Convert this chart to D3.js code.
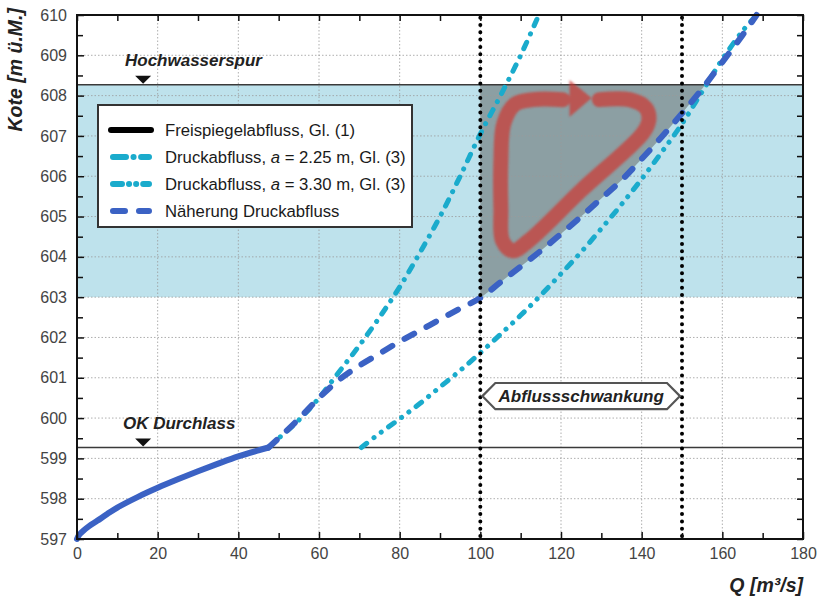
<!DOCTYPE html>
<html>
<head>
<meta charset="utf-8">
<script src="https://cdn.jsdelivr.net/npm/d3@7"></script>
<style>
  body { margin: 0; background: #fff; }
  svg { font-family: "Liberation Sans", Arial, sans-serif; }
</style>
</head>
<body>
<svg width="822" height="600"></svg>
<script>
// Data
var xTicks = [0, 20, 40, 60, 80, 100, 120, 140, 160, 180];
var xMinor = [10, 30, 50, 70, 90, 110, 130, 150, 170];
var yTicks = [597, 598, 599, 600, 601, 602, 603, 604, 605, 606, 607, 608, 609, 610];
var yMinor = [597.5, 598.5, 599.5, 600.5, 601.5, 602.5, 603.5, 604.5, 605.5, 606.5, 607.5, 608.5, 609.5];

var freiQ = [0, 0.5, 1.5, 3, 5, 7.5, 10, 15, 20, 25, 30, 35, 40, 45, 47.5];
var freiK = [597, 597.1, 597.2, 597.32, 597.45, 597.62, 597.78, 598.04, 598.27, 598.48, 598.68, 598.87, 599.05, 599.2, 599.27];

var druck225Q = [47.5, 50, 55, 60, 65, 70, 75, 80, 85, 90, 95, 100, 105, 110, 114.5];
var druck225K = [599.27, 599.5, 599.95, 600.5, 601.15, 601.8, 602.5, 603.25, 604.1, 605.0, 606.0, 607.05, 608.0, 609.0, 610];

var druck330Q = [70.5, 75, 80, 85, 90, 95, 100, 105, 110, 115, 120, 125, 130, 135, 140, 145, 150, 155, 160, 165, 168.5];
var druck330K = [599.27, 599.62, 599.98, 600.36, 600.77, 601.18, 601.62, 602.08, 602.55, 603.05, 603.58, 604.12, 604.7, 605.3, 605.93, 606.6, 607.3, 608.1, 608.9, 609.6, 610];

var naeherungQ = [47.5, 50, 55, 60, 65, 70, 75, 80, 85, 90, 95, 100, 105, 110, 115, 120, 125, 130, 135, 140, 145, 150, 155, 160, 165, 168.5];
var naeherungK = [599.27, 599.5, 599.98, 600.5, 600.95, 601.3, 601.6, 601.9, 602.17, 602.45, 602.72, 602.98, 603.37, 603.76, 604.15, 604.57, 605.0, 605.45, 605.9, 606.43, 606.98, 607.56, 608.17, 608.83, 609.5, 610];

var hochwasser = 608.27;
var okDurchlass = 599.27;
var bandBottom = 603;
var schwankung = [100, 150];

// loop arrow (annotation) in data coordinates
var loopQ = [129.5, 137, 141, 141.8, 140.3, 125, 112, 108, 105.5, 105.1, 105.1, 105.8, 108.5, 113, 120.5];
var loopK = [607.9, 607.9, 607.7, 607.4, 607.07, 605.65, 604.4, 604.15, 604.4, 605.2, 606.4, 607.3, 607.78, 607.9, 607.9];
var headQ = [122.1, 122.1, 127.6];
var headK = [608.39, 607.47, 607.94];

var legendItems = ["frei", "d225", "d330", "naeh"];

// Sizing
var svg = d3.select("svg");
var plotLeft = 77, plotRight = 803, plotTop = 15, plotBottom = 539;

var x = d3.scaleLinear().domain([0, 180]).range([plotLeft, plotRight]);
var y = d3.scaleLinear().domain([597, 610]).range([plotBottom, plotTop]);

var blue = "#3b62c4";
var cyan = "#1aabcc";

function zip(qs, ks) {
	return qs.map((q, i) => [q, ks[i]]);
}

var line = d3
	.line()
	.x((d) => x(d[0]))
	.y((d) => y(d[1]))
	.curve(d3.curveCatmullRom.alpha(0.5));

// Blue band
svg
	.append("rect")
	.attr("x", x(0))
	.attr("y", y(hochwasser))
	.attr("width", x(180) - x(0))
	.attr("height", y(bandBottom) - y(hochwasser))
	.attr("fill", "#bee2ec");

// Gray region between 100 and the approximation curve
var naeh = zip(naeherungQ, naeherungK);
var grayPts = [[schwankung[0], hochwasser]];
for (var i = 0; i < naeh.length; i++) {
	var p = naeh[i];
	if (p[0] < schwankung[0]) continue;
	if (p[1] <= hochwasser) {
		grayPts.push(p);
	} else {
		var prev = naeh[i - 1];
		var t = (hochwasser - prev[1]) / (p[1] - prev[1]);
		grayPts.push([prev[0] + t * (p[0] - prev[0]), hochwasser]);
		break;
	}
}
svg
	.append("path")
	.attr("d", d3.line().x((d) => x(d[0])).y((d) => y(d[1]))(grayPts) + "Z")
	.attr("fill", "#8c9fa3");

// Grid
var grid = svg.append("g").attr("stroke", "#9a9a9a").attr("stroke-width", 0.8).attr("stroke-dasharray", "1.5,2");
grid
	.selectAll("line.v")
	.data(xTicks.slice(1, -1))
	.join("line")
	.attr("class", "v")
	.attr("x1", (d) => x(d))
	.attr("x2", (d) => x(d))
	.attr("y1", y(597))
	.attr("y2", y(610));
grid
	.selectAll("line.h")
	.data(yTicks.slice(1, -1))
	.join("line")
	.attr("class", "h")
	.attr("x1", x(0))
	.attr("x2", x(180))
	.attr("y1", (d) => y(d))
	.attr("y2", (d) => y(d));

// Reference levels
svg
	.selectAll("line.level")
	.data([hochwasser, okDurchlass])
	.join("line")
	.attr("class", "level")
	.attr("x1", x(0))
	.attr("x2", x(180))
	.attr("y1", (d) => y(d))
	.attr("y2", (d) => y(d))
	.attr("stroke", "#3a3a3a")
	.attr("stroke-width", 1.6);

// Curves
var styles = {
	frei: { color: blue, width: 6, dash: null },
	d225: { color: cyan, width: 5, dash: "7,9,0.1,9" },
	d330: { color: cyan, width: 5, dash: "7,9,0.1,9,0.1,9" },
	naeh: { color: blue, width: 6, dash: "11,14" },
};

var curves = [
	["d330", zip(druck330Q, druck330K)],
	["d225", zip(druck225Q, druck225K)],
	["naeh", naeh],
	["frei", zip(freiQ, freiK)],
];

svg
	.append("g")
	.selectAll("path")
	.data(curves)
	.join("path")
	.attr("d", (d) => line(d[1]))
	.attr("fill", "none")
	.attr("stroke", (d) => styles[d[0]].color)
	.attr("stroke-width", (d) => styles[d[0]].width)
	.attr("stroke-dasharray", (d) => styles[d[0]].dash)
	.attr("stroke-linecap", "round");

// Red loop arrow
var defs = svg.append("defs");
defs
	.append("filter")
	.attr("id", "soft")
	.append("feGaussianBlur")
	.attr("stdDeviation", 0.9);

var loop = svg.append("g").attr("opacity", 0.72).attr("filter", "url(#soft)");
loop
	.append("path")
	.attr("d", line(zip(loopQ, loopK)))
	.attr("fill", "none")
	.attr("stroke", "#cc3b36")
	.attr("stroke-width", 15)
	.attr("stroke-linecap", "round")
	.attr("stroke-linejoin", "round");
loop
	.append("path")
	.attr("d", d3.line().x((d) => x(d[0])).y((d) => y(d[1]))(zip(headQ, headK)) + "Z")
	.attr("fill", "#cc3b36");

// Dotted verticals
svg
	.selectAll("line.schw")
	.data(schwankung)
	.join("line")
	.attr("class", "schw")
	.attr("x1", (d) => x(d))
	.attr("x2", (d) => x(d))
	.attr("y1", y(597) - 3)
	.attr("y2", y(610))
	.attr("stroke", "#000")
	.attr("stroke-width", 4)
	.attr("stroke-linecap", "round")
	.attr("stroke-dasharray", "0,7.3");

// Abflussschwankung label
var lblTop = y(600.87), lblBot = y(600.22), lblMid = (lblTop + lblBot) / 2;
var xa = x(schwankung[0]) + 2, xb = x(schwankung[1]) - 2;
svg
	.append("path")
	.attr(
		"d",
		`M${xa},${lblMid} L${xa + 13},${lblTop} L${xb - 13},${lblTop} L${xb},${lblMid} L${xb - 13},${lblBot} L${xa + 13},${lblBot} Z`
	)
	.attr("fill", "#fff")
	.attr("stroke", "#555")
	.attr("stroke-width", 2.2);
svg
	.append("text")
	.attr("x", (xa + xb) / 2)
	.attr("y", lblMid + 6)
	.attr("text-anchor", "middle")
	.style("font-weight", "bold")
	.style("font-style", "italic")
	.style("font-size", "17px")
	.attr("fill", "#222")
	.text("Abflussschwankung");

// Level labels with triangles
var markQ = 16.4;
[
	[hochwasser, "Hochwasserspur", 11.9],
	[okDurchlass, "OK Durchlass", 11.4],
].forEach(function (d) {
	svg
		.append("path")
		.attr("d", `M${x(markQ) - 8},${y(d[0]) - 9} L${x(markQ) + 8},${y(d[0]) - 9} L${x(markQ)},${y(d[0]) - 1} Z`)
		.attr("fill", "#111");
	svg
		.append("text")
		.attr("x", x(d[2]))
		.attr("y", y(d[0]) - 19)
		.style("font-weight", "bold")
		.style("font-style", "italic")
		.style("font-size", "17px")
		.attr("fill", "#222")
		.text(d[1]);
});

// Legend
var legend = svg.append("g");
legend
	.append("rect")
	.attr("x", 98)
	.attr("y", 105)
	.attr("width", 314)
	.attr("height", 122)
	.attr("fill", "#fff")
	.attr("stroke", "#333")
	.attr("stroke-width", 2);

var legendLabels = {
	frei: [["Freispiegelabfluss, Gl. (1)", false]],
	d225: [["Druckabfluss, ", false], ["a", true], [" = 2.25 m, Gl. (3)", false]],
	d330: [["Druckabfluss, ", false], ["a", true], [" = 3.30 m, Gl. (3)", false]],
	naeh: [["Näherung Druckabfluss", false]],
};
var legendDash = {
	frei: null,
	d225: "13,7.5,0.1,7.5",
	d330: "9,7,0.1,7,0.1,7",
	naeh: "12,14",
};

legendItems.forEach(function (key, i) {
	var cy = 130 + i * 27;
	legend
		.append("line")
		.attr("x1", key === "frei" ? 111 : 113)
		.attr("x2", key === "frei" ? 151 : 149)
		.attr("y1", cy)
		.attr("y2", cy)
		.attr("stroke", key === "frei" ? "#000" : styles[key].color)
		.attr("stroke-width", 6)
		.attr("stroke-linecap", "round")
		.attr("stroke-dasharray", legendDash[key]);
	var txt = legend
		.append("text")
		.attr("x", 165)
		.attr("y", cy + 6)
		.style("font-size", "16.7px")
		.attr("fill", "#1a1a1a");
	legendLabels[key].forEach(function (part) {
		txt.append("tspan").style("font-style", part[1] ? "italic" : "normal").text(part[0]);
	});
});

// Axes
function styleAxis(g) {
	g.select(".domain").remove();
	g.selectAll(".tick line").attr("stroke", "#111").attr("stroke-width", 1.5);
	g.selectAll(".tick text").style("font-size", "16px").attr("fill", "#444");
}

svg
	.append("g")
	.attr("transform", `translate(0,${plotBottom})`)
	.call(d3.axisBottom(x).tickValues(xTicks).tickSizeInner(-7).tickSizeOuter(0).tickPadding(9).tickFormat(d3.format("d")))
	.call(styleAxis);
svg
	.append("g")
	.attr("transform", `translate(0,${plotBottom})`)
	.call(d3.axisBottom(x).tickValues(xMinor).tickSizeInner(-6).tickSizeOuter(0).tickFormat(""))
	.call(styleAxis);
svg
	.append("g")
	.attr("transform", `translate(0,${plotTop})`)
	.call(d3.axisTop(x).tickValues(xTicks.concat(xMinor)).tickSizeInner(-6).tickSizeOuter(0).tickFormat(""))
	.call(styleAxis);
svg
	.append("g")
	.attr("transform", `translate(${plotLeft},0)`)
	.call(d3.axisLeft(y).tickValues(yTicks).tickSizeInner(-7).tickSizeOuter(0).tickPadding(10).tickFormat(d3.format("d")))
	.call(styleAxis);
svg
	.append("g")
	.attr("transform", `translate(${plotLeft},0)`)
	.call(d3.axisLeft(y).tickValues(yMinor).tickSizeInner(-6).tickSizeOuter(0).tickFormat(""))
	.call(styleAxis);
svg
	.append("g")
	.attr("transform", `translate(${plotRight},0)`)
	.call(d3.axisRight(y).tickValues(yTicks.concat(yMinor)).tickSizeInner(-6).tickSizeOuter(0).tickFormat(""))
	.call(styleAxis);

// Frame
svg
	.append("rect")
	.attr("x", plotLeft)
	.attr("y", plotTop)
	.attr("width", plotRight - plotLeft)
	.attr("height", plotBottom - plotTop)
	.attr("fill", "none")
	.attr("stroke", "#111")
	.attr("stroke-width", 2);

// Axis titles
svg
	.append("text")
	.attr("x", plotRight)
	.attr("y", 592)
	.attr("text-anchor", "end")
	.style("font-weight", "bold")
	.style("font-style", "italic")
	.style("font-size", "19.5px")
	.attr("fill", "#222")
	.text("Q [m³/s]");

svg
	.append("text")
	.attr("transform", "translate(22,8) rotate(-90)")
	.attr("text-anchor", "end")
	.style("font-weight", "bold")
	.style("font-style", "italic")
	.style("font-size", "19.5px")
	.attr("fill", "#222")
	.text("Kote [m ü.M.]");
</script>
</body>
</html>
